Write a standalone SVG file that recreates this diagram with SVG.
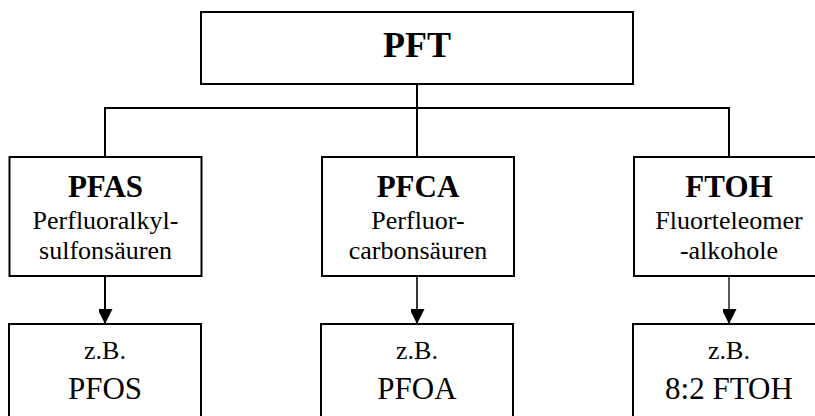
<svg xmlns="http://www.w3.org/2000/svg" width="815" height="416" viewBox="0 0 815 416">
<style>
.box{fill:#fff;stroke:#000;stroke-width:2}
.ln{fill:none;stroke:#000;stroke-width:2}
text{font-family:"Liberation Serif","Times New Roman",serif;fill:#000;text-anchor:middle}
.b{font-weight:bold}
.t36{font-size:36px}
.t31{font-size:31px}
.t26{font-size:26px}
</style>
<defs>
<marker id="arr" markerUnits="userSpaceOnUse" markerWidth="16" markerHeight="14" refX="15" refY="7.5" orient="auto">
<path d="M0,0 L15,7.5 L0,15 Z" fill="#000"/>
</marker>
</defs>
<rect width="815" height="416" fill="#fff"/>
<g id="connectors">
<path class="ln" d="M417,84 V108 M105,108 H729 M105,107 V157 M417,107 V157 M729,107 V157"/>
<line x1="105" y1="276" x2="105" y2="324" stroke="#000" stroke-width="2" marker-end="url(#arr)"/>
<line x1="417" y1="276" x2="417" y2="324" stroke="#000" stroke-width="1.6" marker-end="url(#arr)"/>
<line x1="729" y1="276" x2="729" y2="324" stroke="#000" stroke-width="1.3" marker-end="url(#arr)"/>
</g>
<g id="pft">
<rect class="box" x="201" y="12" width="432" height="72"/>
<text class="b t36" x="417" y="57">PFT</text>
</g>
<g id="pfas">
<rect class="box" x="9.5" y="157" width="192" height="119"/>
<text class="b t31" x="105.5" y="197">PFAS</text>
<text class="t26" x="105.5" y="229">Perfluoralkyl-</text>
<text class="t26" x="105.5" y="259">sulfonsäuren</text>
</g>
<g id="pfca">
<rect class="box" x="322" y="157" width="192" height="119"/>
<text class="b t31" x="418" y="197">PFCA</text>
<text class="t26" x="418" y="229">Perfluor-</text>
<text class="t26" x="418" y="259">carbonsäuren</text>
</g>
<g id="ftoh">
<rect class="box" x="634" y="157" width="192" height="119"/>
<text class="b t31" x="729" y="197">FTOH</text>
<text class="t26" x="729" y="229">Fluorteleomer</text>
<text class="t26" x="729" y="259">-alkohole</text>
</g>
<g id="pfos">
<rect class="box" x="9" y="324" width="192" height="110"/>
<text class="t26" x="105" y="359">z.B.</text>
<text class="t31" x="105" y="399">PFOS</text>
</g>
<g id="pfoa">
<rect class="box" x="321" y="324" width="192" height="110"/>
<text class="t26" x="417" y="359">z.B.</text>
<text class="t31" x="417" y="399">PFOA</text>
</g>
<g id="ftoh82">
<rect class="box" x="633" y="324" width="192" height="110"/>
<text class="t26" x="729" y="359">z.B.</text>
<text class="t31" x="729" y="399">8:2 FTOH</text>
</g>
</svg>
